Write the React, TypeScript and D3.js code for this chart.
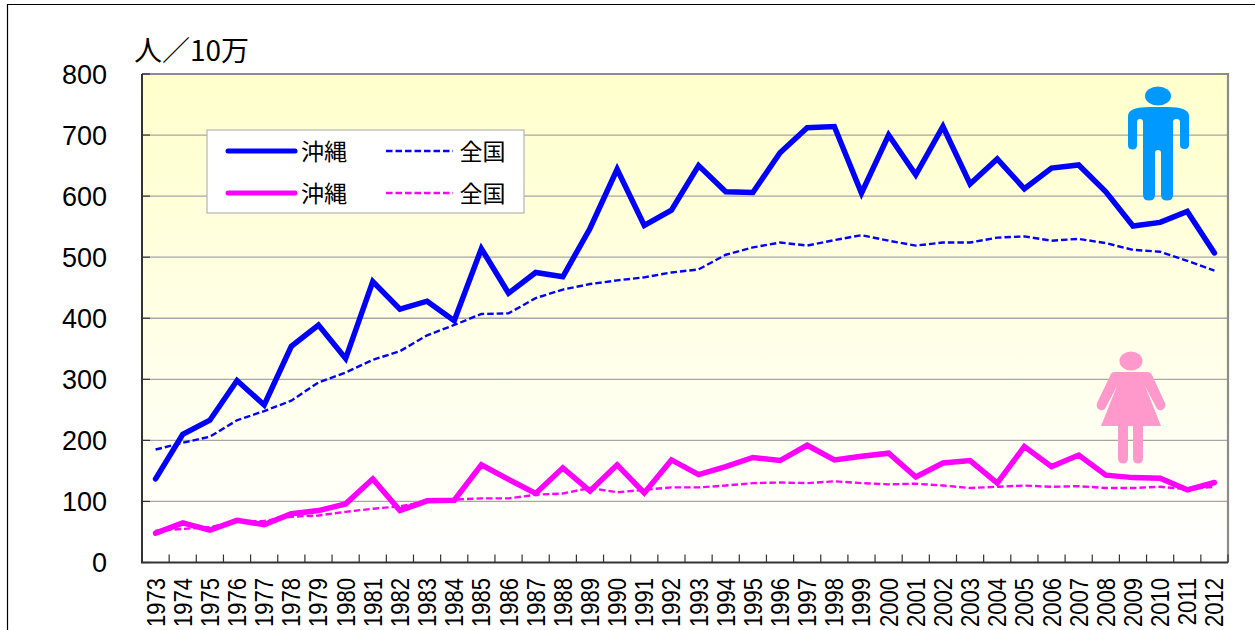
import React from "react";
import * as d3 from "d3";

const years = d3.range(1973, 2013).map(String);
const yTicks = [0, 100, 200, 300, 400, 500, 600, 700, 800];
const maleOkinawa = [137,210,233,298,258,354,389,334,460,415,428,396,514,441,475,468,547,644,552,577,650,607,606,671,712,714,605,700,635,714,620,661,612,646,651,607,551,557,575,507];
const maleNational = [185,196,206,233,248,265,295,311,332,346,372,389,407,408,433,447,456,462,467,475,480,504,516,524,519,528,536,527,519,524,524,532,534,527,530,523,512,509,494,478];
const femaleOkinawa = [48,65,53,69,62,80,85,96,137,85,101,102,160,136,113,155,117,160,114,168,144,157,172,167,192,168,174,179,140,163,167,130,190,157,176,143,139,138,119,131];
const femaleNational = [52,55,58,67,68,75,77,83,88,92,100,103,105,105,111,113,122,115,119,123,123,126,130,131,130,133,130,128,129,126,122,124,126,124,125,122,122,124,120,124];
const unitLabel = "人／10万";
const labelOkinawa = "沖縄";
const labelNational = "全国";

const BLUE = "#0000FF";
const MAGENTA = "#FF00FF";
const SANS = "'Liberation Sans', Arial, sans-serif";
const CJK = "'Noto Sans CJK JP', sans-serif";

const L = 142, R = 1228, T = 74, B = 562.5;

export default function App() {
  const x = d3.scaleBand<string>().domain(years).range([L, R]);
  const y = d3.scaleLinear().domain([0, 800]).range([B, T]);
  const line = d3.line<number>()
    .x((_, i) => (x(years[i]) as number) + x.bandwidth() / 2)
    .y((d) => y(d));
  const tickXs = years.map((yr) => x(yr) as number).concat(R);

  const legendRow = (ly: number, color: string) => (
    <g key={color}>
      <line x1={228} x2={295} y1={ly} y2={ly} stroke={color} strokeWidth={5} strokeLinecap="round" />
      <text x={301} y={ly + 8.5} fontFamily={CJK} fontSize={23} fill="#000">{labelOkinawa}</text>
      <line x1={386} x2={453} y1={ly} y2={ly} stroke={color} strokeWidth={2.4} strokeDasharray="6.5 3" />
      <text x={459.5} y={ly + 8.5} fontFamily={CJK} fontSize={23} fill="#000">{labelNational}</text>
    </g>
  );

  return (
    <svg width={1255} height={630} style={{ position: "absolute", left: 0, top: 0, background: "#fff" }}>
      <defs>
        <linearGradient id="bg" x1="0" y1="0" x2="0" y2="1">
          <stop offset="0" stopColor="#FFFFCC" />
          <stop offset="1" stopColor="#FFFFFF" />
        </linearGradient>
      </defs>
      <path d="M7.5 630V4.5H1255" fill="none" stroke="#000" strokeWidth={1.2} />
      <rect x={L} y={T} width={R - L} height={B - T} fill="url(#bg)" />
      {yTicks.slice(1, -1).map((t) => (
        <line key={t} x1={L} x2={R} y1={y(t)} y2={y(t)} stroke="#A6A6A6" strokeWidth={1.3} />
      ))}
      <path d={`M${L} ${T}H${R}V${B}`} fill="none" stroke="#8C8C8C" strokeWidth={2.2} />

      <path d={line(maleNational) as string} fill="none" stroke={BLUE} strokeWidth={2.4} strokeDasharray="6.5 3" />
      <path d={line(femaleNational) as string} fill="none" stroke={MAGENTA} strokeWidth={2.4} strokeDasharray="6.5 3" />
      <path d={line(maleOkinawa) as string} fill="none" stroke={BLUE} strokeWidth={5.5} strokeLinecap="round" strokeLinejoin="miter" />
      <path d={line(femaleOkinawa) as string} fill="none" stroke={MAGENTA} strokeWidth={5.5} strokeLinecap="round" strokeLinejoin="miter" />

      <path d={`M${R} ${B}H${L}V${T}`} fill="none" stroke="#333" strokeWidth={2} />
      {yTicks.map((t) => (
        <line key={t} x1={L} x2={L + 8} y1={y(t)} y2={y(t)} stroke="#333" strokeWidth={1.2} />
      ))}
      {tickXs.map((tx) => (
        <line key={tx} x1={tx} x2={tx} y1={B} y2={B - 8} stroke="#333" strokeWidth={1.2} />
      ))}
      {yTicks.map((t) => (
        <text key={t} x={107} y={y(t) + 9.5} textAnchor="end" fontFamily={SANS} fontSize={27} fill="#000">{t}</text>
      ))}
      {years.map((yr) => (
        <text
          key={yr}
          transform={`translate(${(x(yr) as number) + x.bandwidth() / 2 + 9},578) rotate(-90) scale(0.88,1)`}
          textAnchor="end"
          fontFamily={SANS}
          fontSize={25}
          fill="#000"
        >
          {yr}
        </text>
      ))}
      <text x={134} y={61} fontFamily={CJK} fontSize={28} fill="#000">{unitLabel}</text>

      <rect x={207} y={130} width={317} height={83} fill="#fff" stroke="#B5B5B5" strokeWidth={1.2} />
      {legendRow(151, BLUE)}
      {legendRow(193, MAGENTA)}

      <g fill="#0099FF">
        <ellipse cx={1158} cy={96} rx={13} ry={9.5} />
        <path d="M1128 116Q1128 107 1150 107H1167Q1189 107 1189 116V145Q1189 149 1184.5 149Q1180 149 1180 145V122Q1180 119 1176.5 119Q1173 119 1173 122V195Q1173 200.500 1167 200.500Q1161 200.500 1161 195V153Q1161 150 1158 150Q1155 150 1155 153V195Q1155 200.500 1149 200.500Q1143 200.500 1143 195V122Q1143 119 1140 119Q1137 119 1137 122V145Q1137 149.500 1132.500 149.500Q1128 149.500 1128 145Z" />
      </g>
      <g fill="#FF99CC">
        <ellipse cx={1131} cy={361} rx={11.500} ry={9.500} />
        <path d="M1115 372H1147Q1151 372 1152.500 376L1165 403Q1166.500 408 1162 410Q1158 411 1156 407L1145 386L1161 426H1143V458Q1143 463.500 1138 463.500Q1133 463.500 1133 458V426H1128V458Q1128 463.500 1123 463.500Q1118 463.500 1118 458V426H1101L1117 386L1106 407Q1104 411 1100 410Q1095.500 408 1097 403L1110 376Q1111 372 1115 372Z" />
      </g>
    </svg>
  );
}
